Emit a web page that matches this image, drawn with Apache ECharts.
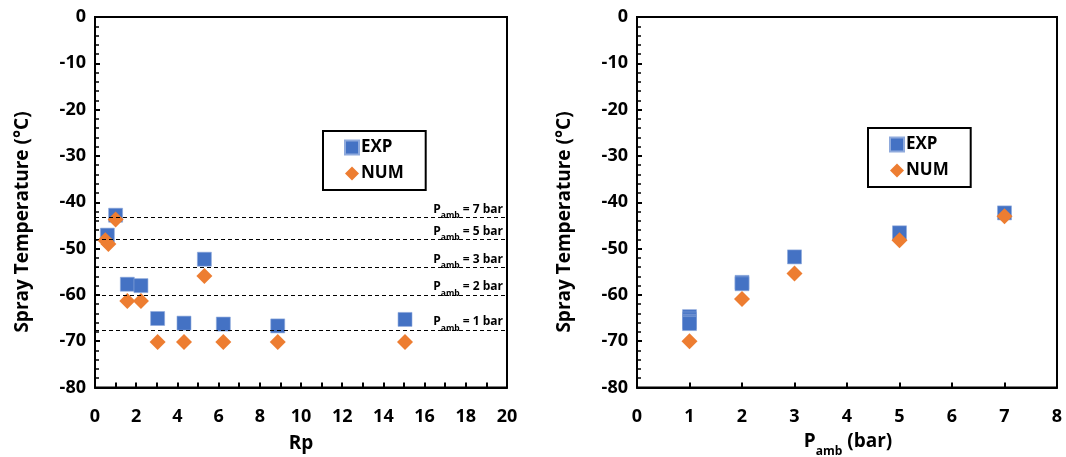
<!DOCTYPE html>
<html>
<head>
<meta charset="utf-8">
<script src="https://cdn.jsdelivr.net/npm/echarts@6/dist/echarts.min.js"></script>
<style>
html,body{margin:0;padding:0;background:#fff;}
#c{width:1066px;height:457px;}
</style>
</head>
<body>
<div id="c"></div>
<script>
// Left chart: spray temperature vs Rp
const rpExp  = [1.0, 0.6, 1.57, 2.23, 3.04, 4.32, 5.31, 6.23, 8.87, 15.05];
const tExpRp = [-42.8, -47.1, -57.7, -58.0, -65.1, -66.1, -52.3, -66.3, -66.7, -65.3];
const rpNum  = [1.0, 0.5, 0.65, 1.57, 2.23, 3.04, 4.32, 5.31, 6.23, 8.87, 15.05];
const tNumRp = [-43.7, -48.2, -49.0, -61.3, -61.3, -70.2, -70.2, -55.9, -70.2, -70.2, -70.2];
// Reference lines (ambient pressure)
const pLineLabels = ['7', '5', '3', '2', '1'];
const pLineTemps  = [-43.25, -48.0, -54.1, -60.0, -67.6];
// Right chart: spray temperature vs ambient pressure
const pExp  = [1, 1, 1, 1, 1, 2, 2, 3, 5, 7];
const tExpP = [-64.7, -65.2, -65.7, -65.9, -66.2, -57.3, -57.6, -51.8, -46.6, -42.3];
const pNum  = [1, 2, 3, 5, 7];
const tNumP = [-70.0, -60.9, -55.4, -48.2, -43.0];
// Axis ticks
const yTicks = [0, -10, -20, -30, -40, -50, -60, -70, -80];

const FONT = '"Open Sans"';
const BLUE = '#4472C4', ORANGE = '#ED7D31';
const chart = echarts.init(document.getElementById('c'));

const zip = (a, b) => a.map((v, i) => [v, b[i]]);

function yAxisCfg(gi) {
  return {
    gridIndex: gi, type: 'value', min: yTicks[yTicks.length-1], max: yTicks[0], interval: 10,
    axisLine: {show: true, onZero: false, lineStyle: {color: '#000', width: 2}},
    axisTick: {show: true, inside: true, length: 5, lineStyle: {color: '#000', width: 2}},
    minorTick: {show: true, splitNumber: 5, length: 4, lineStyle: {color: '#000', width: 1.5}},
    splitLine: {show: false}, minorSplitLine: {show: false},
    axisLabel: {color: '#000', fontFamily: FONT, fontWeight: 700, fontSize: 18, margin: 9}
  };
}
function xAxisCfg(gi, max, interval, minor) {
  return {
    gridIndex: gi, type: 'value', min: 0, max: max, interval: interval,
    axisLine: {show: true, onZero: false, lineStyle: {color: '#000', width: 2}},
    axisTick: {show: true, inside: true, length: 5, lineStyle: {color: '#000', width: 2}},
    minorTick: {show: minor, splitNumber: 2, length: 5, lineStyle: {color: '#000', width: 2}},
    splitLine: {show: false}, minorSplitLine: {show: false},
    axisLabel: {color: '#000', fontFamily: FONT, fontWeight: 700, fontSize: 18, margin: 20}
  };
}

const markData = pLineLabels.map((p, i) => ({
  yAxis: pLineTemps[i],
  label: {formatter: '{p|P}{s|amb}{p| = ' + p + ' bar}'}
}));

const legendCommon = {
  orient: 'vertical',
  borderColor: '#000', borderWidth: 2, borderRadius: 0,
  padding: [8, 22, 8, 21],
  itemWidth: 14, itemHeight: 14, itemGap: 9,
  textStyle: {color: '#000', fontFamily: FONT, fontWeight: 700, fontSize: 17, padding: [0, 0, 0, -3]}
};

chart.setOption({
  animation: false,
  backgroundColor: '#fff',
  grid: [
    {left: 95, top: 17, width: 412, height: 370.5, show: true, borderColor: '#000', borderWidth: 2, backgroundColor: 'transparent'},
    {left: 637, top: 17, width: 420, height: 370.5, show: true, borderColor: '#000', borderWidth: 2, backgroundColor: 'transparent'}
  ],
  xAxis: [xAxisCfg(0, 20, 2, true), xAxisCfg(1, 8, 1, false)],
  yAxis: [yAxisCfg(0), yAxisCfg(1)],
  legend: [
    Object.assign({left: 323, top: 131, data: ['EXP', 'NUM']}, legendCommon),
    Object.assign({left: 868, top: 128, data: ['EXP2', 'NUM2'],
      formatter: n => n.replace('2', '')}, legendCommon)
  ],
  series: [
    {
      name: 'EXP', type: 'scatter', xAxisIndex: 0, yAxisIndex: 0,
      symbol: 'rect', symbolSize: 14,
      itemStyle: {color: BLUE, borderColor: '#8FAADC', borderWidth: 0.6, opacity: 1},
      data: zip(rpExp, tExpRp),
      markLine: {
        silent: true, symbol: 'none',
        lineStyle: {color: '#000', type: [4, 3], width: 1.2},
        label: {
          show: true, position: 'insideEndTop', distance: [4, 2],
          color: '#000', fontFamily: FONT, fontWeight: 700,
          rich: {
            p: {fontSize: 12, fontWeight: 700, fontFamily: FONT, color: '#000', verticalAlign: 'bottom', lineHeight: 16},
            s: {fontSize: 8.5, fontWeight: 700, fontFamily: FONT, color: '#000', verticalAlign: 'bottom', lineHeight: 16, padding: [0, 0, -5, 0]}
          }
        },
        data: markData
      }
    },
    {
      name: 'NUM', type: 'scatter', xAxisIndex: 0, yAxisIndex: 0,
      symbol: 'diamond', symbolSize: 16,
      itemStyle: {color: ORANGE, opacity: 1},
      data: zip(rpNum, tNumRp)
    },
    {
      name: 'EXP2', type: 'scatter', xAxisIndex: 1, yAxisIndex: 1,
      symbol: 'rect', symbolSize: 14,
      itemStyle: {color: BLUE, borderColor: '#8FAADC', borderWidth: 0.6, opacity: 1},
      data: zip(pExp, tExpP)
    },
    {
      name: 'NUM2', type: 'scatter', xAxisIndex: 1, yAxisIndex: 1,
      symbol: 'diamond', symbolSize: 16,
      itemStyle: {color: ORANGE, opacity: 1},
      data: zip(pNum, tNumP)
    }
  ],
  graphic: [
    {type: 'text', x: 23, y: 222, rotation: Math.PI / 2,
      style: {text: 'Spray Temperature (°C)', fill: '#000', font: '700 19px ' + FONT, align: 'center', verticalAlign: 'middle'}},
    {type: 'text', x: 565, y: 222, rotation: Math.PI / 2,
      style: {text: 'Spray Temperature (°C)', fill: '#000', font: '700 19px ' + FONT, align: 'center', verticalAlign: 'middle'}},
    {type: 'text', x: 301, y: 444,
      style: {text: 'Rp', fill: '#000', font: '700 19px ' + FONT, align: 'center', verticalAlign: 'middle'}},
    {type: 'text', x: 848, y: 440,
      style: {
        text: '{p|P}{s|amb}{p| (bar)}', align: 'center', verticalAlign: 'middle',
        rich: {
          p: {fill: '#000', font: '700 19px ' + FONT, verticalAlign: 'bottom', lineHeight: 22},
          s: {fill: '#000', font: '700 12px ' + FONT, verticalAlign: 'bottom', lineHeight: 22, padding: [0, 0, -7, 0]}
        }
      }}
  ]
});
</script>
</body>
</html>
